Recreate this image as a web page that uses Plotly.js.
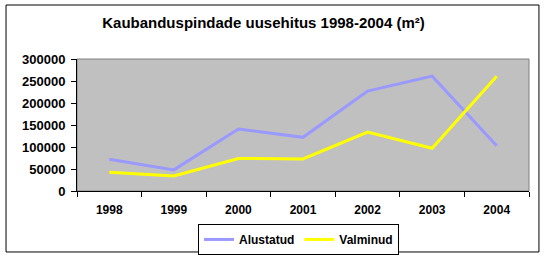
<!DOCTYPE html>
<html>
<head>
<meta charset="utf-8">
<script src="https://cdn.plot.ly/plotly-3.0.1.min.js"></script>
<style>html,body{margin:0;padding:0;background:#fff;}#chart{width:545px;height:258px;}</style>
</head>
<body>
<div id="chart"></div>
<script>
var years = ["1998", "1999", "2000", "2001", "2002", "2003", "2004"];
var alustatud = [72000, 48000, 141000, 122000, 227000, 261000, 103000];
var valminud = [42500, 34000, 74000, 73000, 134000, 97000, 261000];
var seriesNames = ["Alustatud", "Valminud"];
var titleText = "Kaubanduspindade uusehitus 1998-2004 (m²)";

var fontFam = "Liberation Sans, Arial, sans-serif";
var traces = [
  {x: years, y: alustatud, name: seriesNames[0], type: "scatter", mode: "lines",
   line: {color: "#9999FF", width: 3}},
  {x: years, y: valminud, name: seriesNames[1], type: "scatter", mode: "lines",
   line: {color: "#FFFF00", width: 3}}
];
var layout = {
  width: 545, height: 258,
  margin: {l: 77, r: 16, t: 59, b: 67, pad: 0, autoexpand: false},
  paper_bgcolor: "#FFFFFF",
  plot_bgcolor: "#C0C0C0",
  font: {family: fontFam, size: 12, color: "#000"},
  title: {text: "<b>" + titleText + "</b>", font: {family: fontFam, size: 15, color: "#000"},
          x: 263.5/545, xanchor: "center", y: 1 - 23/258, yref: "container", yanchor: "middle", automargin: false},
  xaxis: {type: "category", range: [-0.5, 6.5], showgrid: false, zeroline: false,
          showline: true, linecolor: "#000", linewidth: 1, automargin: false,
          ticks: "outside", ticklen: 5, tickcolor: "#000", tickson: "boundaries", ticklabelstandoff: 8,
          tickfont: {family: fontFam, size: 12, color: "#000", weight: "bold"}, fixedrange: true},
  yaxis: {range: [0, 300000], dtick: 50000, tickformat: "d", showgrid: false, zeroline: false,
          showline: true, linecolor: "#000", linewidth: 1, automargin: false,
          ticks: "outside", ticklen: 5, tickcolor: "#000", ticklabelstandoff: 3,
          tickfont: {family: fontFam, size: 13, color: "#000", weight: "bold"}, fixedrange: true},
  showlegend: true,
  legend: {orientation: "h", x: 0.49, xanchor: "center", y: -0.367, yanchor: "middle",
           bordercolor: "#000", borderwidth: 1, bgcolor: "#FFF",
           font: {family: fontFam, size: 12, color: "#000", weight: "bold"},
           itemwidth: 30, tracegroupgap: 0},
  shapes: [
    {type: "rect", xref: "paper", yref: "paper", x0: 0, x1: 1, y0: 0, y1: 1,
     line: {color: "#808080", width: 1}, layer: "below"},
    {type: "rect", xref: "paper", yref: "paper", x0: -0.157, x1: 1.022, y0: -0.462, y1: 1.409,
     line: {color: "#000", width: 1}, layer: "above"}
  ]
};
Plotly.newPlot("chart", traces, layout, {displayModeBar: false, staticPlot: true});
</script>
</body>
</html>
